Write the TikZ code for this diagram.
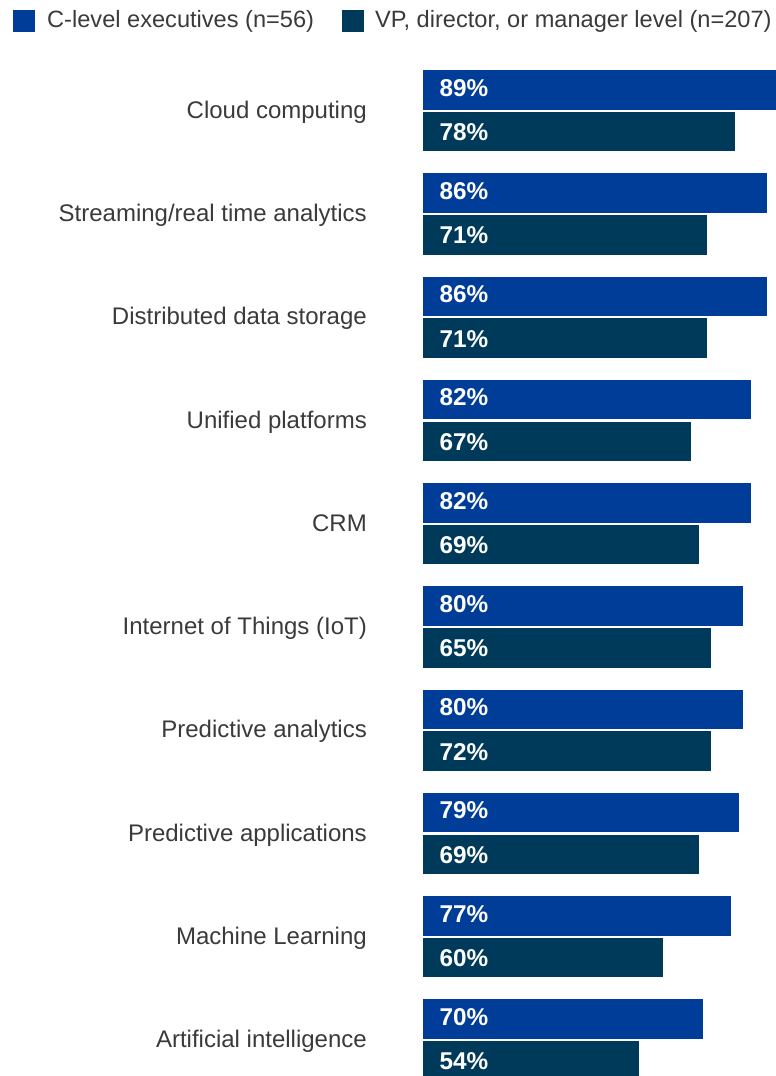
\documentclass[tikz,border=0pt]{standalone}
\usepackage{fontspec}
\setmainfont{Liberation Sans}
\definecolor{cblue}{HTML}{003D99}
\definecolor{vteal}{HTML}{003A5A}
\definecolor{labgray}{HTML}{3A3A3A}
\begin{document}
\begin{tikzpicture}[x=1pt,y=-1pt,
  barbox/.style={anchor=north west, minimum height=39.5pt, inner ysep=0pt, inner xsep=17pt,
    outer sep=0pt, text=white, font=\fontsize{24.3}{24.3}\selectfont\bfseries, align=left},
  cbar/.style={barbox, fill=cblue, text height=17pt, text depth=4.5pt},
  vbar/.style={barbox, fill=vteal, text height=22pt, text depth=4.1pt},
  catlabel/.style={anchor=base east, inner sep=0pt, text=labgray, font=\fontsize{24}{24}\selectfont},
  legsq/.style={anchor=north west, minimum size=22pt, inner sep=0pt, outer sep=0pt},
  legtext/.style={anchor=base west, inner sep=0pt, text=labgray, font=\fontsize{23.6}{23.6}\selectfont}]
\useasboundingbox (0,0) rectangle (776,1076);
% legend
\node[legsq, fill=cblue] (lsq1) at (13,10) {};
\node[legtext] (ltx1) at (47,27.3) {C-level executives (n=56)};
\node[legsq, fill=vteal] (lsq2) at (342,10) {};
\node[legtext] (ltx2) at (375,27.3) {VP, director, or manager level (n=207)};
% bars: label / C value / VP value / VP drawn length
\foreach \lab/\c/\v/\vl [count=\i from 0] in {
  Cloud computing/89/78/78,
  Streaming\slash real time analytics/86/71/71,
  Distributed data storage/86/71/71,
  Unified platforms/82/67/67,
  CRM/82/69/69,
  Internet of Things (IoT)/80/65/72,
  Predictive analytics/80/72/72,
  Predictive applications/79/69/69,
  Machine Learning/77/60/60,
  Artificial intelligence/70/54/54}{
  \pgfmathsetmacro{\top}{70+103.26*\i}
  \pgfmathsetmacro{\cw}{4*\c-34}
  \pgfmathsetmacro{\vw}{4*\vl-34}
  \node[cbar, text width=\cw pt] (c\i) at (422.7,\top) {\c\%};
  \node[vbar, text width=\vw pt] (v\i) at (422.7,\top+41.8) {\v\%};
  \node[catlabel] (l\i) at (367,\top+48.3) {\lab};
}
\end{tikzpicture}
\end{document}
